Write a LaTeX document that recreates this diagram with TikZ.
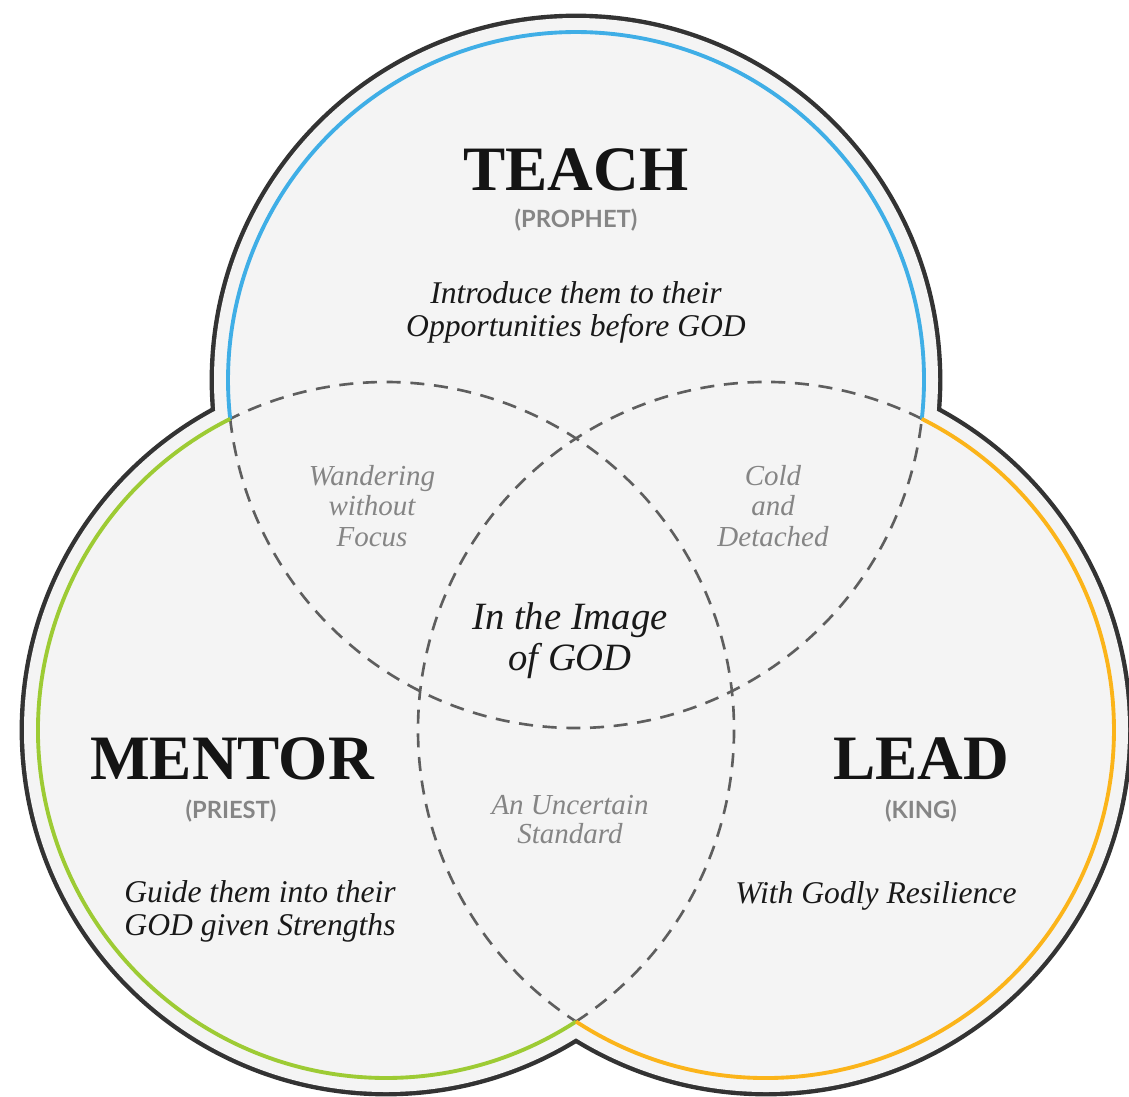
\documentclass[tikz,border=0pt]{standalone}
\usepackage{fontspec}
\setmainfont{Liberation Serif}
\newfontfamily\labelfont{Lato}
\usetikzlibrary{calc}
\definecolor{edgegray}{HTML}{333333}
\definecolor{panelgray}{HTML}{F4F4F4}
\definecolor{teachblue}{HTML}{3FAEE6}
\definecolor{mentorgreen}{HTML}{9DCB34}
\definecolor{leadorange}{HTML}{FBB41A}
\definecolor{dashgray}{HTML}{5E5E5E}
\definecolor{softgray}{HTML}{858585}
\tikzset{
  outline/.style={draw=edgegray, line width=5pt},
  panel/.style={fill=panelgray},
  ringarc/.style={line width=2.2pt},
  overlap/.style={draw=dashgray, line width=1.5pt, dash pattern=on 8pt off 5.5pt},
  title/.style={anchor=base, inner sep=0pt, font=\bfseries\fontsize{36}{40}\selectfont, text=black!92},
  role/.style={anchor=base, inner sep=0pt, font=\labelfont\bfseries\fontsize{13.5}{16}\selectfont, text=softgray},
  motto/.style={anchor=base, inner sep=0pt, font=\itshape\fontsize{18}{20}\selectfont, text=black!90},
  zone/.style={anchor=base, inner sep=0pt, font=\itshape\fontsize{16.5}{18}\selectfont, text=softgray},
  core/.style={anchor=base, inner sep=0pt, font=\itshape\fontsize{22}{24}\selectfont, text=black!90}
}
\begin{document}
\begin{tikzpicture}[x=0.02cm, y=0.02cm]
\useasboundingbox (0,0) rectangle (1129,-1096);
\clip (0,0) rectangle (1129,-1096);
\fill[white] (0,0) rectangle (1129,-1096);

\coordinate (T) at (576,-380);
\coordinate (L) at (386,-730);
\coordinate (R) at (766,-730);

% union outline and panel
\foreach \c in {T,L,R} \draw[outline] (\c) circle[radius=362];
\foreach \c in {T,L,R} \fill[panel] (\c) circle[radius=362];

% dashed inner arcs
\draw[overlap] ($(T)+(186.4:348)$) arc[start angle=186.4, end angle=353.6, radius=348];
\draw[overlap] ($(L)+(-56.9:348)$) arc[start angle=-56.9, end angle=116.6, radius=348];
\draw[overlap] ($(R)+(63.4:348)$) arc[start angle=63.4, end angle=236.9, radius=348];

% coloured outer arcs
\draw[ringarc, teachblue] ($(T)+(-6.4:348)$) arc[start angle=-6.4, end angle=186.4, radius=348];
\draw[ringarc, mentorgreen] ($(L)+(116.6:348)$) arc[start angle=116.6, end angle=303.1, radius=348];
\draw[ringarc, leadorange] ($(R)+(-123.1:348)$) arc[start angle=-123.1, end angle=63.4, radius=348];

% TEACH
\node[title] (teach) at (576,-190) {TEACH};
\node[role] (prophet) at (576,-227) {(PROPHET)};
\node[motto] (teach1) at (576,-303) {Introduce them to their};
\node[motto] (teach2) at (576,-336) {Opportunities before GOD};

% MENTOR
\node[title] (mentor) at (232,-779) {MENTOR};
\node[role] (priest) at (231,-818) {(PRIEST)};
\node[motto] (mentor1) at (260,-902) {Guide them into their};
\node[motto] (mentor2) at (260,-935) {GOD given Strengths};

% LEAD
\node[title] (lead) at (921,-779) {LEAD};
\node[role] (king) at (921,-818) {(KING)};
\node[motto] (lead1) at (876,-903) {With Godly Resilience};

% overlaps
\node[zone] (wand1) at (372,-485) {Wandering};
\node[zone] (wand2) at (372,-515) {without};
\node[zone] (wand3) at (372,-546) {Focus};
\node[zone] (cold1) at (773,-485) {Cold};
\node[zone] (cold2) at (773,-515) {and};
\node[zone] (cold3) at (773,-546) {Detached};
\node[zone] (unc1) at (570,-814) {An Uncertain};
\node[zone] (unc2) at (570,-843) {Standard};
\node[core] (img1) at (570,-629) {In the Image};
\node[core] (img2) at (570,-670) {of GOD};
\end{tikzpicture}
\end{document}
